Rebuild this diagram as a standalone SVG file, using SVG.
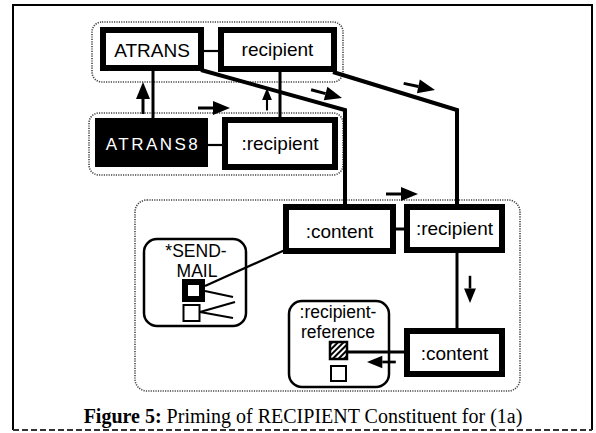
<svg xmlns="http://www.w3.org/2000/svg" width="596" height="433" viewBox="0 0 596 433">
<style>
.frame{fill:none;stroke:#000;stroke-width:2}
.frameb{fill:none;stroke:#333;stroke-width:2;stroke-dasharray:6 3}
.grp{fill:none;stroke:#444;stroke-width:1.6;stroke-dasharray:1.2 1.2}
.box{fill:#fff;stroke:#000;stroke-width:6}
.blk{fill:#000;stroke:#000;stroke-width:2}
.rbox{fill:#fff;stroke:#000;stroke-width:2.5}
.lbl{font-family:"Liberation Sans",Arial,sans-serif;font-size:19px;fill:#000;text-anchor:middle}
.sm{font-size:17.5px}
.wlbl{font-family:"Liberation Sans",Arial,sans-serif;font-size:17px;fill:#fff;text-anchor:middle;letter-spacing:2.5px}
.wire{fill:none;stroke:#000;stroke-width:4;stroke-linejoin:miter}
.mid{fill:none;stroke:#000;stroke-width:3}
.thin{fill:none;stroke:#000;stroke-width:2.2}
.cap{font-family:"Liberation Serif","Times New Roman",serif;font-size:20px;text-anchor:middle;fill:#000}
</style>
<defs>
<g id="arr"><path d="M0,0 L-17,-7 L-17,7 Z" fill="#000"/><path d="M-17,0 H-32" stroke="#000" stroke-width="3"/></g>
<pattern id="hatch" width="4" height="4" patternUnits="userSpaceOnUse" patternTransform="rotate(45)"><rect width="4" height="4" fill="#fff"/><rect width="2" height="4" fill="#000"/></pattern>
</defs>

<!-- outer frame -->
<path class="frame" d="M13,430 V5 H592 V430"/>
<path class="frameb" d="M13,430 H592"/>

<!-- dotted groups -->
<rect class="grp" x="92" y="22" width="251" height="60" rx="10"/>
<rect class="grp" x="89" y="113" width="254" height="62" rx="10"/>
<rect class="grp" x="135" y="200" width="385" height="191" rx="12"/>

<!-- nodes -->
<g id="atrans">
<rect class="box" x="103" y="30" width="98" height="38"/>
<text class="lbl" x="152" y="57">ATRANS</text>
</g>
<g id="recipient">
<rect class="box" x="221" y="30" width="113" height="39"/>
<text class="lbl" x="277.5" y="56">recipient</text>
</g>
<g id="atrans8">
<rect class="blk" x="96" y="119" width="111" height="47"/>
<text class="wlbl" x="153" y="150">ATRANS8</text>
</g>
<g id="recipient2">
<rect class="box" x="225" y="120" width="110" height="47"/>
<text class="lbl" x="280" y="150">:recipient</text>
</g>
<g id="content1">
<rect class="box" x="286" y="207" width="107" height="44"/>
<text class="lbl" x="339.5" y="238">:content</text>
</g>
<g id="recipient3">
<rect class="box" x="407" y="207" width="95" height="43"/>
<text class="lbl" x="454.5" y="235">:recipient</text>
</g>
<g id="content2">
<rect class="box" x="407" y="331" width="95" height="43"/>
<text class="lbl" x="454.5" y="360">:content</text>
</g>
<g id="sendmail">
<rect class="rbox" x="144" y="239" width="102" height="87" rx="13"/>
<text class="lbl sm" x="196" y="257">*SEND-</text>
<text class="lbl sm" x="197" y="276.5">MAIL</text>
<rect x="185" y="282" width="17" height="17" fill="#fff" stroke="#000" stroke-width="6"/>
<rect x="183.5" y="305" width="16" height="16" fill="#fff" stroke="#000" stroke-width="2"/>
</g>
<g id="recipref">
<rect class="rbox" x="289" y="301" width="100" height="86" rx="13"/>
<text class="lbl sm" x="338" y="318">:recipient-</text>
<text class="lbl sm" x="338" y="337.5">reference</text>
<rect x="330" y="342" width="17" height="17" fill="url(#hatch)" stroke="#000" stroke-width="2.5"/>
<rect x="331" y="366" width="15" height="15" fill="#fff" stroke="#000" stroke-width="2"/>
</g>

<!-- connectors -->
<g id="connectors">
<path class="thin" d="M204,51 H218"/>
<path class="thin" d="M208,145 H222"/>
<path class="mid" d="M153,71 V118"/>
<path class="mid" d="M280,72 V117"/>
<path class="wire" d="M201,70 L345,110 V204"/>
<path class="wire" d="M333,72 L457,110 V204"/>
<path class="mid" d="M396,229 H404"/>
<path class="mid" d="M457,253 V328"/>
<path class="mid" d="M348,352 H404"/>
<path class="thin" d="M205,286 L285,250"/>
<path class="thin" d="M205,291 L233,297"/>
<path class="thin" d="M200,312 L235,302"/>
<path class="thin" d="M200,312 L233,318"/>
<use href="#arr" transform="translate(143,82) rotate(-90)"/>
<use href="#arr" transform="translate(267,88) rotate(-90) scale(0.7)"/>
<use href="#arr" transform="translate(230,108)"/>
<use href="#arr" transform="translate(342,98) rotate(15)"/>
<use href="#arr" transform="translate(435,90) rotate(12)"/>
<use href="#arr" transform="translate(418,194)"/>
<use href="#arr" transform="translate(470,303) rotate(90) scale(0.85)"/>
<use href="#arr" transform="translate(367,362) rotate(180) scale(0.9)"/>
</g>

<text class="cap" x="303" y="423"><tspan font-weight="bold">Figure 5:</tspan> Priming of RECIPIENT Constituent for (1a)</text>
</svg>
